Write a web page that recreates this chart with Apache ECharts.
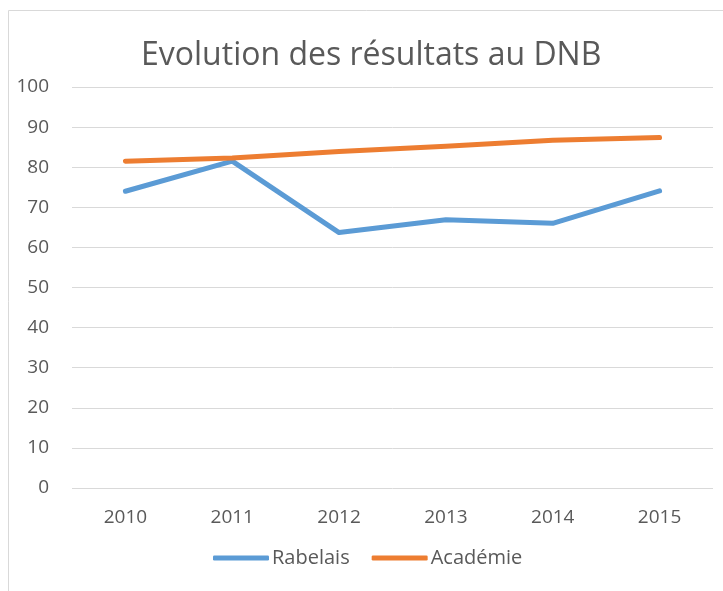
<!DOCTYPE html>
<html>
<head>
<meta charset="utf-8">
<script src="https://cdn.jsdelivr.net/npm/echarts@6/dist/echarts.min.js"></script>
<style>
  html, body { margin: 0; padding: 0; background: #fff; }
  #chart { width: 723px; height: 591px; }
</style>
</head>
<body>
<div id="chart"></div>
<script>
const years = ['2010', '2011', '2012', '2013', '2014', '2015'];
const rabelais = [74.0, 81.5, 63.7, 66.9, 66.0, 74.1];
const academie = [81.5, 82.3, 83.9, 85.2, 86.7, 87.4];
const yTicks = { min: 0, max: 100, interval: 10 };

const chart = echarts.init(document.getElementById('chart'));
const font = 'Open Sans';
const txt = '#595959';

chart.setOption({
  animation: false,
  textStyle: { fontFamily: font },
  graphic: [
    {
      type: 'rect',
      shape: { x: 8.5, y: 10.5, width: 730, height: 600 },
      style: { fill: 'none', stroke: '#d9d9d9', lineWidth: 1 },
      silent: true
    }
  ],
  title: {
    text: 'Evolution des résultats au DNB',
    left: 136,
    top: 35,
    textStyle: { fontFamily: font, fontSize: 32, fontWeight: 'normal', color: txt }
  },
  legend: {
    bottom: 18,
    left: 208,
    itemWidth: 56,
    itemHeight: 5,
    itemGap: 22,
    icon: 'roundRect',
    textStyle: { fontFamily: font, fontSize: 20, color: txt, padding: [0, 0, 0, -2] },
    data: ['Rabelais', 'Académie']
  },
  grid: { left: 72, right: 10, top: 87, bottom: 103 },
  xAxis: {
    type: 'category',
    data: years,
    boundaryGap: true,
    axisLine: { show: false },
    axisTick: { show: false },
    axisLabel: { color: txt, fontSize: 19, margin: 20 }
  },
  yAxis: {
    type: 'value',
    min: yTicks.min,
    max: yTicks.max,
    interval: yTicks.interval,
    axisLine: { show: false },
    axisTick: { show: false },
    axisLabel: { color: txt, fontSize: 19, margin: 23 },
    splitLine: { lineStyle: { color: '#d9d9d9', width: 1 } }
  },
  series: [
    {
      name: 'Rabelais',
      type: 'line',
      data: rabelais,
      showSymbol: false,
      symbol: 'none',
      itemStyle: { color: '#5b9bd5' },
      lineStyle: { color: '#5b9bd5', width: 5, cap: 'round', join: 'round' }
    },
    {
      name: 'Académie',
      type: 'line',
      data: academie,
      showSymbol: false,
      symbol: 'none',
      itemStyle: { color: '#ed7d31' },
      lineStyle: { color: '#ed7d31', width: 5, cap: 'round', join: 'round' }
    }
  ]
});
</script>
</body>
</html>
